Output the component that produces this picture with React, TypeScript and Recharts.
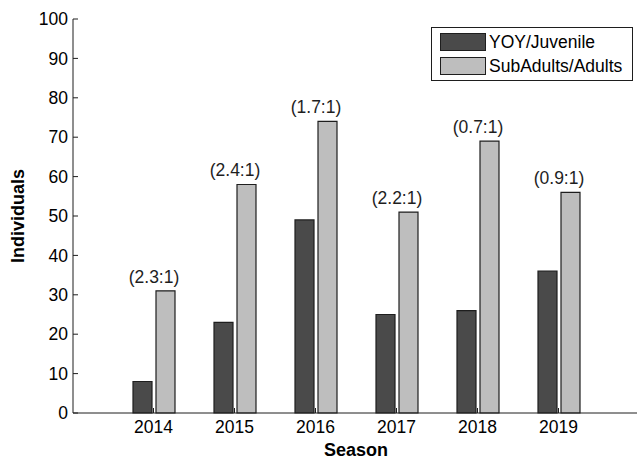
import { BarChart, Bar, XAxis, YAxis, Legend, LabelList, Label } from "recharts"

const seasons = ["2014", "2015", "2016", "2017", "2018", "2019"]
const juvenile = [8, 23, 49, 25, 26, 36]
const adults = [31, 58, 74, 51, 69, 56]
const ratios = ["(2.3:1)", "(2.4:1)", "(1.7:1)", "(2.2:1)", "(0.7:1)", "(0.9:1)"]
const yTicks = [0, 10, 20, 30, 40, 50, 60, 70, 80, 90, 100]

const data = seasons.map((season, i) => ({
  season,
  juvenile: juvenile[i],
  adults: adults[i],
}))

const FONT = '"Liberation Sans", Arial, Helvetica, sans-serif'
const FS = 17.5
const INK = "#1e1e1e"
const DARK = "#4a4a4a"
const LIGHT = "#bebebe"
const BAR_GAP = 4

const hiddenTick = () => <g />

// ratio text sits over the middle of each season group
const RatioLabel = (props: any) => {
  const { x, y, index } = props
  return (
    <text
      x={x - BAR_GAP / 2}
      y={y - 8}
      textAnchor="middle"
      fontFamily={FONT}
      fontSize={FS}
      fill={INK}
    >
      {ratios[index]}
    </text>
  )
}

const LegendBox = () => {
  const items = [
    { name: "YOY/Juvenile", color: DARK },
    { name: "SubAdults/Adults", color: LIGHT },
  ]
  return (
    <div
      style={{
        border: `1px solid ${INK}`,
        background: "#fff",
        padding: "2px 3px 2px 8px",
        fontFamily: FONT,
        fontSize: FS,
        color: "#000",
        boxSizing: "border-box",
        width: 202,
        height: 54,
        whiteSpace: "nowrap",
      }}
    >
      {items.map((it) => (
        <div key={it.name} style={{ display: "flex", alignItems: "center", height: 24 }}>
          <span
            style={{
              width: 46,
              height: 18,
              flex: "none",
              boxSizing: "border-box",
              border: `1px solid ${INK}`,
              background: it.color,
              marginRight: 3,
              display: "inline-block",
            }}
          />
          <span style={{ lineHeight: "18px" }}>{it.name}</span>
        </div>
      ))}
    </div>
  )
}

export default function App() {
  return (
    <div style={{ position: "absolute", left: 0, top: 0, width: 637, height: 460, overflow: "hidden", background: "#fff" }}>
      <BarChart
        width={640}
        height={460}
        data={data}
        margin={{ top: 19, right: 1, bottom: 0, left: 0 }}
        barSize={19}
        barGap={BAR_GAP}
      >
        <XAxis
          dataKey="season"
          height={47}
          padding={{ left: 40, right: 40 }}
          tickSize={-5}
          tickMargin={13}
          stroke={INK}
          tick={{ fill: "#000", fontSize: FS, fontFamily: FONT }}
        >
          <Label
            content={({ viewBox }: any) => (
              <text
                x={viewBox.x + viewBox.width / 2}
                y={456}
                textAnchor="middle"
                fontFamily={FONT}
                fontSize={18}
                fontWeight="bold"
                fill="#000"
              >
                Season
              </text>
            )}
          />
        </XAxis>
        <XAxis
          xAxisId="top"
          orientation="top"
          dataKey="season"
          height={0}
          padding={{ left: 40, right: 40 }}
          tickSize={-5}
          stroke={INK}
          tick={hiddenTick}
        />
        <YAxis
          width={73}
          domain={[0, 100]}
          ticks={yTicks}
          interval={0}
          tickSize={-5}
          tickMargin={10}
          stroke={INK}
          tick={{ fill: "#000", fontSize: FS, fontFamily: FONT }}
        >
          <Label
            content={({ viewBox }: any) => {
              const cx = 18
              const cy = viewBox.y + viewBox.height / 2
              return (
                <text
                  x={cx}
                  y={cy}
                  transform={`rotate(-90 ${cx} ${cy})`}
                  textAnchor="middle"
                  dominantBaseline="central"
                  fontFamily={FONT}
                  fontSize={18}
                  fontWeight="bold"
                  fill="#000"
                >
                  Individuals
                </text>
              )
            }}
          />
        </YAxis>
        <YAxis
          yAxisId="right"
          orientation="right"
          width={0}
          domain={[0, 100]}
          ticks={yTicks}
          interval={0}
          tickSize={-5}
          stroke={INK}
          tick={hiddenTick}
        />
        <Legend
          layout="vertical"
          align="center"
          verticalAlign="middle"
          wrapperStyle={{ left: 431, top: 27, width: 202, height: 54 }}
          content={() => <LegendBox />}
        />
        <Bar dataKey="juvenile" name="YOY/Juvenile" fill={DARK} stroke={INK} strokeWidth={1.2} isAnimationActive={false} />
        <Bar dataKey="adults" name="SubAdults/Adults" fill={LIGHT} stroke={INK} strokeWidth={1.2} isAnimationActive={false}>
          <LabelList dataKey="adults" content={RatioLabel} />
        </Bar>
      </BarChart>
    </div>
  )
}
